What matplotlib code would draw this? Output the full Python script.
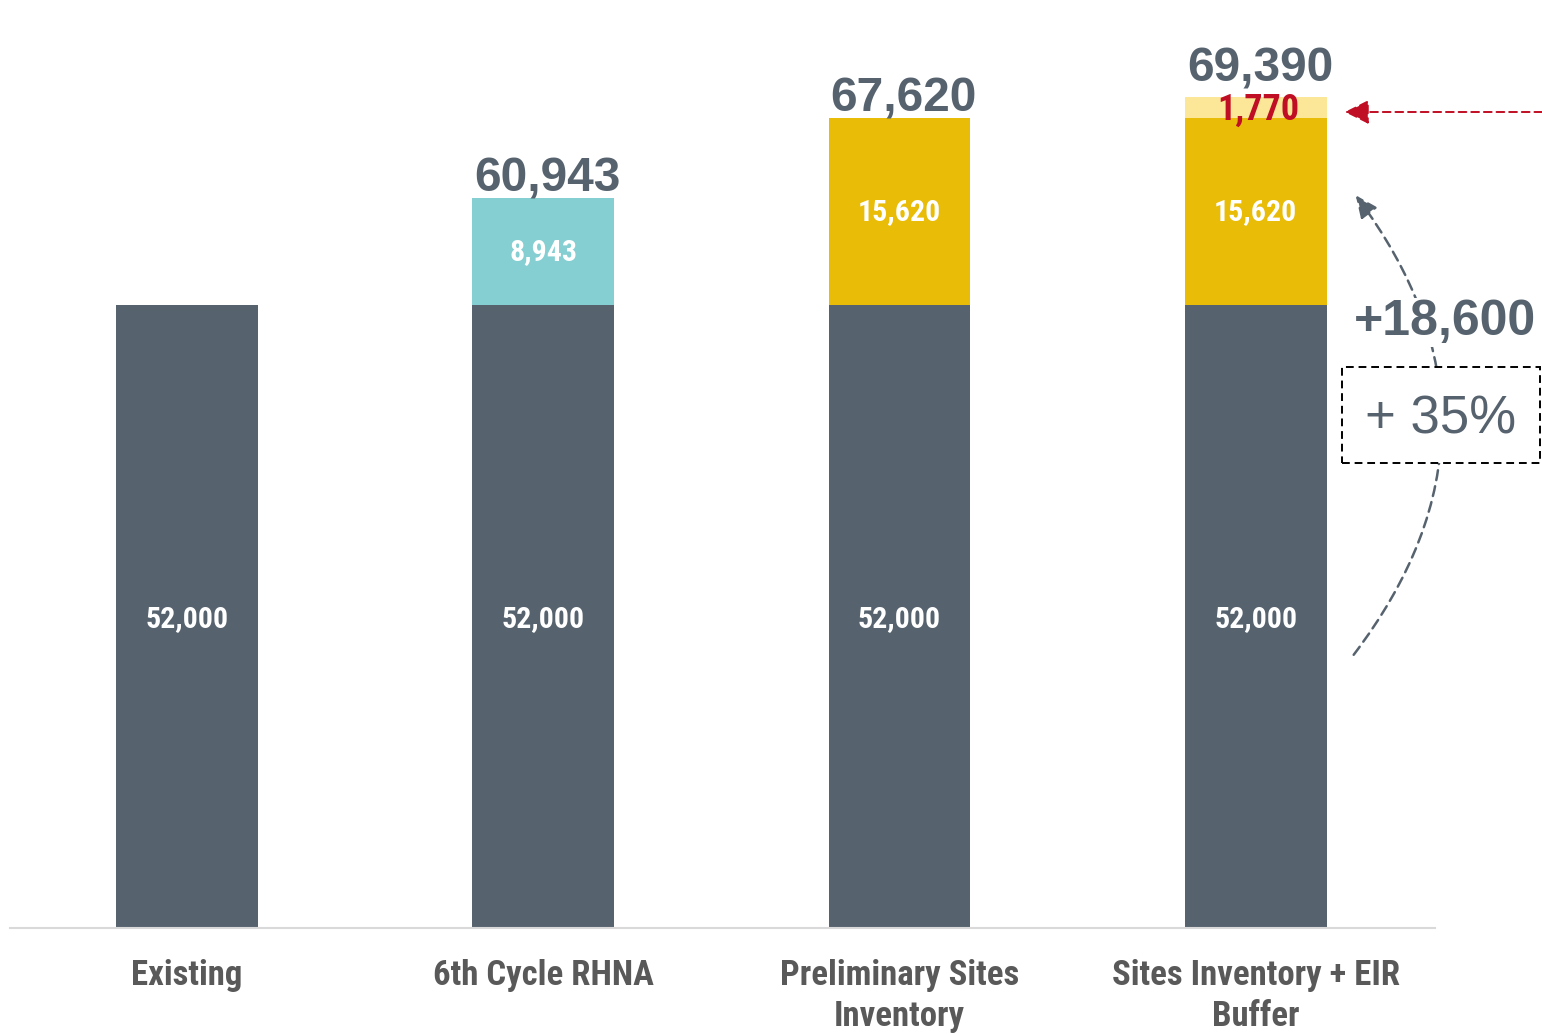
import matplotlib
matplotlib.use("Agg")
import matplotlib.pyplot as plt
from matplotlib import font_manager as fm
from matplotlib.patches import FancyArrowPatch, Rectangle
import numpy as np

# ---------------- data ----------------
categories = ["Existing", "6th Cycle RHNA", "Preliminary Sites\nInventory", "Sites Inventory + EIR\nBuffer"]
existing = [52000, 52000, 52000, 52000]
rhna = [0, 8943, 0, 0]
sites = [0, 0, 15620, 15620]
buffer = [0, 0, 0, 1770]
totals = [None, 60943, 67620, 69390]
increase_label = "+18,600"
pct_label = "+ 35%"

# ---------------- colours ----------------
SLATE = "#56636F"
TEAL = "#85CFD2"
GOLD = "#E8BC07"
LIGHT = "#FCE697"
RED = "#C00E24"
GREY = "#595959"

# ---------------- fonts ----------------
def pick_condensed():
    prefs = ["Roboto Condensed", "Liberation Sans Narrow", "Open Sans Condensed", "Noto Sans Condensed"]
    fl = fm.fontManager.ttflist
    for p in prefs:
        for f in fl:
            if f.name == p and (f.weight in ("bold", 700) or (isinstance(f.weight, int) and f.weight >= 700)) and f.style == "normal":
                return fm.FontProperties(fname=f.fname)
    for f in fl:
        if f.name == "DejaVu Sans" and "condensed" in str(f.stretch) and f.weight in ("bold", 700) and f.style == "normal":
            return fm.FontProperties(fname=f.fname)
    return fm.FontProperties(family="DejaVu Sans", weight="bold")

COND = pick_condensed()

def cfp(size):
    p = COND.copy()
    p.set_size(size)
    return p

W, H = 1542, 1034
fig = plt.figure(figsize=(W / 100, H / 100), dpi=100)
ax = fig.add_axes([10 / W, (H - 928) / H, (1435 - 10) / W, 922 / H])

x = np.arange(len(categories))
bw = 0.398
ax.bar(x, existing, bw, color=SLATE, zorder=2)
ax.bar(x, rhna, bw, bottom=existing, color=TEAL, zorder=2)
ax.bar(x, sites, bw, bottom=existing, color=GOLD, zorder=2)
b2 = np.array(existing) + np.array(sites)
ax.bar(x, buffer, bw, bottom=b2, color=LIGHT, zorder=2)

ax.set_xlim(-0.497, 3.503)
ax.set_ylim(0, 77000)

for s in ["top", "right", "left"]:
    ax.spines[s].set_visible(False)
ax.spines["bottom"].set_color("#D9D9D9")
ax.spines["bottom"].set_linewidth(1.5)
ax.set_yticks([])
ax.set_xticks(x)
ax.set_xticklabels(categories, fontproperties=cfp(25), color=GREY, linespacing=1.33)
ax.tick_params(axis="x", length=0, pad=22)

# segment labels
for i in range(len(categories)):
    ax.text(x[i], existing[i] / 2 - 200, f"{existing[i]:,}", ha="center", va="center",
            color="white", fontproperties=cfp(21.5), zorder=3)
    if rhna[i]:
        ax.text(x[i], existing[i] + rhna[i] / 2, f"{rhna[i]:,}", ha="center", va="center",
                color="white", fontproperties=cfp(21.5), zorder=3)
    if sites[i]:
        ax.text(x[i], existing[i] + sites[i] / 2, f"{sites[i]:,}", ha="center", va="center",
                color="white", fontproperties=cfp(21.5), zorder=3)
    if buffer[i]:
        ax.text(x[i] + 0.008, b2[i] + buffer[i] / 2 - 150, f"{buffer[i]:,}", ha="center", va="center",
                color=RED, fontproperties=cfp(26), zorder=3)
    if totals[i]:
        off = 1300 if buffer[i] else 600
        ax.text(x[i] + 0.012, totals[i] + off, f"{totals[i]:,}", ha="center", va="baseline",
                color=SLATE, fontsize=34.5, fontweight="bold", family="Liberation Sans", zorder=3)

# annotations in figure pixel coordinates
def fp(px, py):
    return (px / W, 1 - py / H)

red_arrow = FancyArrowPatch(fp(1545, 112), fp(1342, 112), transform=fig.transFigure,
                            arrowstyle="-|>,head_length=10,head_width=5", mutation_scale=1.5,
                            color=RED, lw=1.4, linestyle=(0, (4, 2.5)))
fig.patches.append(red_arrow)

arc = FancyArrowPatch(fp(1352, 657), fp(1354, 193), transform=fig.transFigure,
                      connectionstyle="arc3,rad=0.38",
                      arrowstyle="-|>,head_length=9,head_width=4", mutation_scale=1.5,
                      color=SLATE, lw=1.8, linestyle=(0, (4, 2.5)))
fig.patches.append(arc)

fig.text(*fp(1445, 322), increase_label, ha="center", va="center", color=SLATE,
         fontsize=36, fontweight="bold", family="Liberation Sans",
         bbox=dict(facecolor="white", edgecolor="none", pad=1))

box = Rectangle(fp(1342, 463), 198 / W, 96 / H, transform=fig.transFigure,
                facecolor="white", edgecolor="black", lw=1.4, linestyle=(0, (4, 2.5)), zorder=3)
fig.patches.append(box)
fig.text(*fp(1441, 420), pct_label, ha="center", va="center", color=SLATE,
         fontsize=38, family="Liberation Sans", zorder=4)

fig.savefig("out.png", dpi=100)
